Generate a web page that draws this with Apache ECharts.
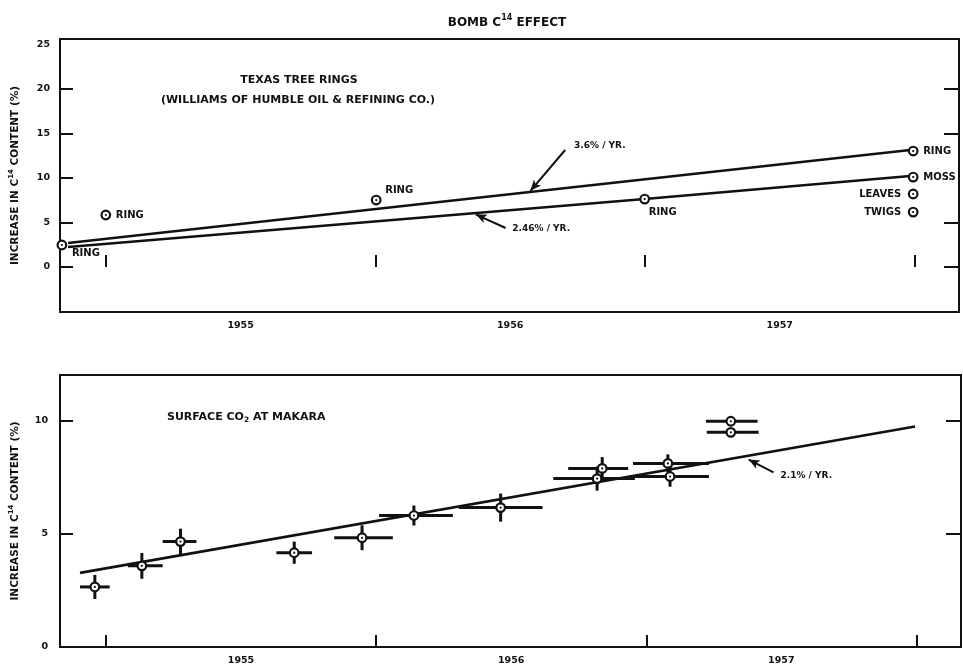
<!DOCTYPE html>
<html>
<head>
<meta charset="utf-8">
<script src="https://cdn.jsdelivr.net/npm/echarts@6/dist/echarts.min.js"></script>
<style>
html,body{margin:0;padding:0;background:#fff;}
#main{width:963px;height:669px;}
</style>
</head>
<body>
<div id="main"></div>
<script>
// ---------- DATA ----------
// Top panel: Texas tree rings etc. (x in decimal years, y in % increase)
const ringX = [1954.337, 1954.50, 1955.503, 1956.499, 1957.495, 1957.495, 1957.495, 1957.495];
const ringY = [2.47, 5.84, 7.52, 7.63, 13.02, 10.10, 8.20, 6.17];
const ringLabels = ['RING', 'RING', 'RING', 'RING', 'RING', 'MOSS', 'LEAVES', 'TWIGS'];
// fitted lines in top panel
const upperLineX = [1954.36, 1957.484];
const upperLineY = [2.69, 13.14];
const lowerLineX = [1954.36, 1956.499, 1957.484];
const lowerLineY = [2.25, 7.63, 10.22];

// Bottom panel: Surface CO2 at Makara
const makX   = [1954.459, 1954.633, 1954.776, 1955.197, 1955.448, 1955.640, 1955.961, 1956.337, 1956.318, 1956.580, 1956.588, 1956.813, 1956.813];
const makY   = [2.65, 3.58, 4.65, 4.16, 4.82, 5.80, 6.15, 7.88, 7.43, 8.10, 7.52, 9.96, 9.47];
const makXLo = [1954.404, 1954.581, 1954.710, 1955.131, 1955.345, 1955.511, 1955.806, 1956.211, 1956.156, 1956.451, 1956.455, 1956.721, 1956.724];
const makXHi = [1954.514, 1954.710, 1954.835, 1955.263, 1955.562, 1955.784, 1956.116, 1956.433, 1956.458, 1956.732, 1956.732, 1956.912, 1956.916];
const makYErr = [0.53, 0.57, 0.57, 0.49, 0.55, 0.44, 0.62, 0.50, 0.53, 0.40, 0.45, 0, 0];
const regX = [1954.404, 1957.495];
const regY = [3.27, 9.73];

// Axis ticks / labels
const xTickValues = [1954.5, 1955.5, 1956.5, 1957.5];
const xLabelValues = [1955, 1956, 1957];
const topYLabels = [0, 5, 10, 15, 20, 25];
const topYTicksLeft = [0, 5, 10, 15, 20];
const topYTicksRight = [0, 5, 15, 20];
const botYLabels = [0, 5, 10];
const botYTicks = [5, 10];

// Annotation texts
const rateUpper = '3.6% / YR.';
const rateLower = '2.46% / YR.';
const rateMak = '2.1% / YR.';

// ---------- STYLE / LAYOUT ----------
const FONT = 'DejaVu Sans';
const INK = '#111';
const X_MIN = 1954.33, X_MAX = 1957.665;
// label offsets for top-panel point names [dx, dy, align]
const ringLabelLayout = [
  [10, 8, 'left'], [10, 0, 'left'], [9, -10, 'left'], [4, 13, 'left'],
  [10, 0, 'left'], [10, 0, 'left'], [-12, 0, 'right'], [-12, 0, 'right']
];

const chart = echarts.init(document.getElementById('main'), null, {renderer: 'canvas'});

const supRich = {
  a: {fontFamily: FONT, fontWeight: 'bold', fontSize: 10.5, color: INK, lineHeight: 13, verticalAlign: 'bottom'},
  s: {fontFamily: FONT, fontWeight: 'bold', fontSize: 7, color: INK, lineHeight: 13, verticalAlign: 'top', padding: [0, 0, 5, 0]}
};
const yName = '{a|INCREASE IN C}{s|14}{a| CONTENT (%)}';

function xAxisCfg(gridIndex) {
  return {
    type: 'value', gridIndex, min: X_MIN, max: X_MAX,
    axisLine: {show: false},
    splitLine: {show: false},
    axisTick: {show: true, inside: true, length: 12, customValues: xTickValues, lineStyle: {color: INK, width: 2}},
    axisLabel: {show: true, customValues: xLabelValues, margin: 9,
      formatter: v => String(Math.round(v)),
      fontFamily: FONT, fontWeight: 'bold', fontSize: 9.5, color: INK}
  };
}

function markerGroup(c) {
  return [
    {type: 'circle', shape: {cx: c[0], cy: c[1], r: 4.3}, style: {fill: '#fff', stroke: INK, lineWidth: 2.2}},
    {type: 'circle', shape: {cx: c[0], cy: c[1], r: 1.1}, style: {fill: INK}}
  ];
}

const ringData = ringX.map((x, i) => [x, ringY[i], i]);
const makData = makX.map((x, i) => [x, makY[i], makXLo[i], makXHi[i], makYErr[i]]);

function renderRing(params, api) {
  const c = api.coord([api.value(0), api.value(1)]);
  const idx = api.value(2);
  const lay = ringLabelLayout[idx];
  const kids = markerGroup(c);
  kids.push({
    type: 'text', x: c[0] + lay[0], y: c[1] + lay[1],
    style: {text: ringLabels[idx], fill: INK, font: 'bold 10px "' + FONT + '"',
      align: lay[2], verticalAlign: 'middle', textAlign: lay[2], textVerticalAlign: 'middle'}
  });
  return {type: 'group', children: kids};
}

function renderErr(params, api) {
  const x = api.value(0), y = api.value(1);
  const c = api.coord([x, y]);
  const l = api.coord([api.value(2), y]);
  const r = api.coord([api.value(3), y]);
  const e = api.value(4);
  const kids = [
    {type: 'line', shape: {x1: l[0], y1: l[1], x2: r[0], y2: r[1]}, style: {stroke: INK, lineWidth: 3}}
  ];
  if (e > 0) {
    const t = api.coord([x, y + e]);
    const b = api.coord([x, y - e]);
    kids.push({type: 'line', shape: {x1: t[0], y1: t[1], x2: b[0], y2: b[1]}, style: {stroke: INK, lineWidth: 3}});
  }
  kids.push(...markerGroup(c));
  return {type: 'group', children: kids};
}

function arrowLine(from, to) {
  return [{coord: from, symbol: 'none'}, {coord: to, symbol: 'arrow', symbolSize: [7, 11]}];
}

function textPoint(coord, text) {
  return {
    coord, symbol: 'circle', symbolSize: 0, value: text,
    label: {show: true, formatter: text, position: 'right', distance: 0,
      fontFamily: FONT, fontWeight: 'bold', fontSize: 9, color: INK}
  };
}

const option = {
  backgroundColor: '#fff',
  animation: false,
  title: {
    text: '{a|BOMB C}{s|14}{a| EFFECT}',
    left: 502, top: 9, textAlign: 'center',
    textStyle: {rich: {
      a: {fontFamily: FONT, fontWeight: 'bold', fontSize: 12, color: INK, lineHeight: 15, verticalAlign: 'bottom'},
      s: {fontFamily: FONT, fontWeight: 'bold', fontSize: 8, color: INK, lineHeight: 15, verticalAlign: 'top', padding: [0, 0, 5, 0]}
    }}
  },
  grid: [
    {left: 55, top: 39, width: 904, height: 273, show: true, borderColor: INK, borderWidth: 2, backgroundColor: 'transparent'},
    {left: 57, top: 375, width: 904, height: 272, show: true, borderColor: INK, borderWidth: 2, backgroundColor: 'transparent'}
  ],
  xAxis: [xAxisCfg(0), xAxisCfg(1)],
  yAxis: [
    {type: 'value', gridIndex: 0, min: -5.05, max: 25.6, position: 'left',
      axisLine: {show: false}, splitLine: {show: false},
      axisTick: {show: true, inside: true, length: 13, customValues: topYTicksLeft, lineStyle: {color: INK, width: 2}},
      axisLabel: {show: true, customValues: topYLabels, margin: 10, fontFamily: FONT, fontWeight: 'bold', fontSize: 9.5, color: INK},
      name: yName, nameLocation: 'middle', nameGap: 39, nameRotate: 90,
      nameTextStyle: {rich: supRich}},
    {type: 'value', gridIndex: 0, min: -5.05, max: 25.6, position: 'right',
      axisLine: {show: false}, splitLine: {show: false},
      axisTick: {show: true, inside: true, length: 15, customValues: topYTicksRight, lineStyle: {color: INK, width: 2}},
      axisLabel: {show: false}},
    {type: 'value', gridIndex: 1, min: 0, max: 12, position: 'left',
      axisLine: {show: false}, splitLine: {show: false},
      axisTick: {show: true, inside: true, length: 13, customValues: botYTicks, lineStyle: {color: INK, width: 2}},
      axisLabel: {show: true, customValues: botYLabels, margin: 12, fontFamily: FONT, fontWeight: 'bold', fontSize: 9.5, color: INK},
      name: yName, nameLocation: 'middle', nameGap: 39, nameRotate: 90,
      nameTextStyle: {rich: supRich}},
    {type: 'value', gridIndex: 1, min: 0, max: 12, position: 'right',
      axisLine: {show: false}, splitLine: {show: false},
      axisTick: {show: true, inside: true, length: 15, customValues: botYTicks, lineStyle: {color: INK, width: 2}},
      axisLabel: {show: false}}
  ],
  series: [
    {type: 'line', name: 'upper', xAxisIndex: 0, yAxisIndex: 0, showSymbol: false, silent: true,
      data: upperLineX.map((x, i) => [x, upperLineY[i]]),
      lineStyle: {color: INK, width: 2.6}, z: 2,
      markLine: {silent: true, lineStyle: {color: INK, width: 2, type: 'solid'}, label: {show: false},
        symbol: ['none', 'arrow'],
        data: [arrowLine([1956.204, 13.14], [1956.075, 8.55])]},
      markPoint: {silent: true, data: [textPoint([1956.237, 13.58], rateUpper)]}
    },
    {type: 'line', name: 'lower', xAxisIndex: 0, yAxisIndex: 0, showSymbol: false, silent: true,
      data: lowerLineX.map((x, i) => [x, lowerLineY[i]]),
      lineStyle: {color: INK, width: 2.6}, z: 2,
      markLine: {silent: true, lineStyle: {color: INK, width: 2, type: 'solid'}, label: {show: false},
        symbol: ['none', 'arrow'],
        data: [arrowLine([1955.983, 4.38], [1955.872, 5.92])]},
      markPoint: {silent: true, data: [textPoint([1956.008, 4.27], rateLower)]}
    },
    {type: 'custom', name: 'samples', xAxisIndex: 0, yAxisIndex: 0, renderItem: renderRing,
      data: ringData, z: 5, silent: true},
    {type: 'line', name: 'reg', xAxisIndex: 1, yAxisIndex: 2, showSymbol: false, silent: true,
      data: regX.map((x, i) => [x, regY[i]]),
      lineStyle: {color: INK, width: 2.6}, z: 2,
      markLine: {silent: true, lineStyle: {color: INK, width: 2, type: 'solid'}, label: {show: false},
        symbol: ['none', 'arrow'],
        data: [arrowLine([1956.971, 7.70], [1956.879, 8.27])]},
      markPoint: {silent: true, data: [textPoint([1956.997, 7.57], rateMak)]}
    },
    {type: 'custom', name: 'makara', xAxisIndex: 1, yAxisIndex: 2, renderItem: renderErr,
      data: makData, z: 5, silent: true}
  ],
  graphic: [
    {type: 'text', x: 299, y: 80, style: {text: 'TEXAS TREE RINGS', fill: INK,
      font: 'bold 11px "' + FONT + '"', align: 'center', verticalAlign: 'middle'}},
    {type: 'text', x: 298, y: 100, style: {text: '(WILLIAMS OF HUMBLE OIL & REFINING CO.)', fill: INK,
      font: 'bold 11px "' + FONT + '"', align: 'center', verticalAlign: 'middle'}},
    {type: 'text', x: 167, y: 417, style: {
      text: '{a|SURFACE CO}{b|2}{a| AT MAKARA}', align: 'left', verticalAlign: 'middle',
      rich: {
        a: {fontFamily: FONT, fontWeight: 'bold', fontSize: 11, fill: INK, lineHeight: 15, verticalAlign: 'top', padding: [2, 0, 0, 0]},
        b: {fontFamily: FONT, fontWeight: 'bold', fontSize: 7.5, fill: INK, lineHeight: 15, verticalAlign: 'bottom'}
      }}}
  ]
};

chart.setOption(option);
</script>
</body>
</html>
